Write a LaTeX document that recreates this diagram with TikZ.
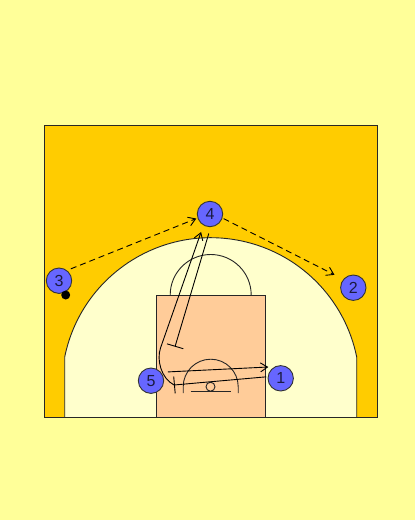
\documentclass[tikz,border=0pt]{standalone}
\usepackage{fontspec}
\setmainfont{Liberation Sans}
\usetikzlibrary{arrows.meta}
\definecolor{bgyellow}{HTML}{FFFF99}
\definecolor{courtfill}{HTML}{FFCC00}
\definecolor{innerfill}{HTML}{FFFFCC}
\definecolor{lanefill}{HTML}{FFCC99}
\definecolor{playerfill}{HTML}{6666FF}
\definecolor{playertext}{HTML}{1A1A40}
\begin{document}
\begin{tikzpicture}[x=1pt,y=-1pt,
  courtline/.style={draw=black!85, line width=0.9pt},
  player/.style={circle, draw=black!80, line width=0.9pt, fill=playerfill,
    minimum size=25.4pt, inner sep=0pt, text=playertext,
    font=\fontsize{16}{16}\selectfont},
  ballnode/.style={circle, fill=black, minimum size=9pt, inner sep=0pt},
  passline/.style={line width=0.9pt, dash pattern=on 6pt off 4pt,
    -{Straight Barb[length=7pt,width=9pt]}},
  cutline/.style={line width=0.9pt, -{Straight Barb[length=7pt,width=9pt]}},
  screenline/.style={line width=0.9pt, -{Bar[width=17pt,line width=0.9pt]}}
]
\useasboundingbox (0,0) rectangle (415,520);
\fill[bgyellow] (0,0) rectangle (415,520);

% court
\fill[courtfill] (44,125) rectangle (377,417);
% three-point region
\path[courtline, fill=innerfill] (64.7,417) -- (64.7,357)
  arc[start angle=191.5, end angle=348.5, radius=149] -- (356.7,417);
% lane
\path[courtline, fill=lanefill] (156,417) -- (156,295) -- (265.3,295) -- (265.3,417);
% free-throw semicircle
\draw[courtline] (170.2,295) arc[start angle=180, end angle=360, radius=40.5];
% restricted area arc
\draw[courtline] (183.2,393) -- (183.2,386.7)
  arc[start angle=180, end angle=360, radius=27.5] -- (238.2,393);
% basket and backboard
\draw[courtline] (210.5,386.7) circle[radius=4.5];
\draw[courtline] (190.7,391.5) -- (230.7,391.5);
% court border
\draw[courtline] (44,125) rectangle (377,417);

% players
\node[player] (p4) at (210,214) {4};
\node[player] (p3) at (59,280.7) {3};
\node[player] (p2) at (353.3,287.7) {2};
\node[player] (p5) at (151,380.7) {5};
\node[player] (p1) at (280.7,378.3) {1};
\node[ballnode] (ball) at (65.7,295) {};

% helper coordinates
\coordinate (s4) at (175,346.7);
\coordinate (scr1) at (174,385);
\coordinate (bend5) at (160.5,348);

% passes
\draw[passline, shorten <=4pt, shorten >=1.3pt] (p3.52) -- (p4.198);
\draw[passline, shorten <=1.3pt, shorten >=9.8pt] (p4.342) -- (p2.140);

% screens
\draw[screenline, shorten <=6.6pt] (p4.273) -- (s4);
\draw[screenline, shorten <=1.4pt] (p1.173) -- (scr1);

% cuts
\draw[cutline, shorten >=7pt] (scr1) .. controls (161,378) and (156.5,360) .. (bend5) -- (p4.240);
\draw[cutline, shorten <=6.8pt, shorten >=6.2pt] (p5.40) -- (p1.118.5);
\end{tikzpicture}
\end{document}
